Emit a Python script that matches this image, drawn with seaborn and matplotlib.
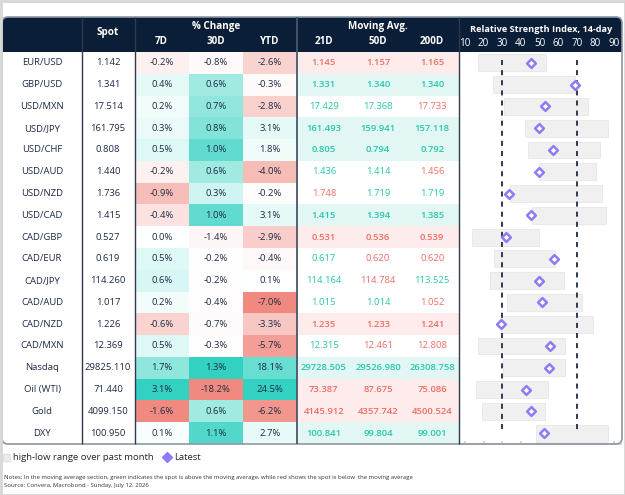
"""FX dashboard table: % change heat cells, moving averages and RSI ranges."""
import matplotlib

matplotlib.use("Agg")

import matplotlib.pyplot as plt
import numpy as np
import pandas as pd
import seaborn as sns
from matplotlib.colors import LinearSegmentedColormap
from matplotlib.lines import Line2D
from matplotlib.patches import FancyBboxPatch, Patch, Rectangle

assets = ["EUR/USD", "GBP/USD", "USD/MXN", "USD/JPY", "USD/CHF", "USD/AUD",
          "USD/NZD", "USD/CAD", "CAD/GBP", "CAD/EUR", "CAD/JPY", "CAD/AUD",
          "CAD/NZD", "CAD/MXN", "Nasdaq", "Oil (WTI)", "Gold", "DXY"]
spot = [1.142, 1.341, 17.514, 161.795, 0.808, 1.440, 1.736, 1.415, 0.527,
        0.619, 114.260, 1.017, 1.226, 12.369, 29825.110, 71.440, 4099.150, 100.950]
chg_7d = [-0.2, 0.4, 0.2, 0.3, 0.5, -0.2, -0.9, -0.4, 0.0, 0.5, 0.6, 0.2,
          -0.6, 0.5, 1.7, 3.1, -1.6, 0.1]
chg_30d = [-0.8, 0.6, 0.7, 0.8, 1.0, 0.6, 0.3, 1.0, -1.4, -0.2, -0.2, -0.4,
           -0.7, -0.3, 1.3, -18.2, 0.6, 1.1]
chg_ytd = [-2.6, -0.3, -2.8, 3.1, 1.8, -4.0, -0.2, 3.1, -2.9, -0.4, 0.1, -7.0,
           -3.3, -5.7, 18.1, 24.5, -6.2, 2.7]
ma_21d = [1.145, 1.331, 17.429, 161.493, 0.805, 1.436, 1.748, 1.415, 0.531,
          0.617, 114.164, 1.015, 1.235, 12.315, 29728.505, 73.387, 4145.912, 100.841]
ma_50d = [1.157, 1.340, 17.368, 159.941, 0.794, 1.414, 1.719, 1.394, 0.536,
          0.620, 114.784, 1.014, 1.233, 12.461, 29526.980, 87.675, 4357.742, 99.804]
ma_200d = [1.165, 1.340, 17.733, 157.118, 0.792, 1.456, 1.719, 1.385, 0.539,
           0.620, 113.525, 1.052, 1.241, 12.808, 26308.758, 75.086, 4500.524, 99.001]
rsi_low = [17.0, 25.0, 30.9, 42.3, 43.7, 49.9, 33.9, 46.0, 13.8, 25.4, 23.2,
           32.5, 29.5, 17.0, 30.3, 15.8, 19.0, 48.1]
rsi_high = [53.5, 69.1, 76.2, 86.9, 82.3, 80.5, 83.3, 85.8, 49.9, 58.3, 63.4,
            72.7, 78.9, 63.8, 63.8, 54.7, 53.1, 86.9]
rsi_latest = [45.6, 69.1, 53.1, 49.9, 57.4, 49.5, 33.5, 45.6, 32.1, 57.9, 49.9,
              51.1, 29.3, 55.6, 54.9, 43.0, 45.5, 52.4]
rsi_ticks = [10, 20, 30, 40, 50, 60, 70, 80, 90]
rsi_bands = [30, 70]

W, H = 625, 495
TOP, BOT = 52, 444
NAVY = "#0b1e38"
TEXT = "#1e2a44"
GREEN_TXT = "#27c6ad"
RED_TXT = "#ee6d65"
PURPLE = "#8c7cf5"
FS = 6.8

sns.set_theme(style="white")
plt.rcParams["font.family"] = ["Open Sans", "DejaVu Sans"]

n = len(assets)
row_h = (BOT - TOP) / n
row_y = [TOP + (i + 0.5) * row_h for i in range(n)]

fig = plt.figure(figsize=(6.25, 4.95), dpi=100)


def px_axes(x0, y0, x1, y1):
    return fig.add_axes([x0 / W, 1 - y1 / H, (x1 - x0) / W, (y1 - y0) / H])


# background: table body + navy header
bg = px_axes(0, 0, W, H)
bg.set_xlim(0, W)
bg.set_ylim(H, 0)
bg.axis("off")
bg.add_patch(FancyBboxPatch((2, 17), 620, BOT - 17, boxstyle="round,pad=0,rounding_size=6",
                            fc="white", ec="none"))
bg.add_patch(FancyBboxPatch((2, 17), 620, 35, boxstyle="round,pad=0,rounding_size=6",
                            fc=NAVY, ec="none"))
bg.add_patch(Rectangle((2, 40), 620, 12, fc=NAVY, ec="none"))

# % change heat cells, colour scaled separately for gains and losses per column
chg = pd.DataFrame({"7D": chg_7d, "30D": chg_30d, "YTD": chg_ytd}, index=assets)
norm = chg.copy()
for col in chg.columns:
    pos_max = chg[col].clip(lower=0).max()
    neg_min = -chg[col].clip(upper=0).min()
    norm[col] = np.where(chg[col] >= 0, chg[col] / pos_max, chg[col] / neg_min)
labels = chg.map(lambda v: f"{v:.1f}%")
chg_cmap = LinearSegmentedColormap.from_list("chg", ["#f08a80", "#ffffff", "#33d1c1"])

hm_ax = px_axes(134.7, TOP, 296.7, BOT)
sns.heatmap(norm, ax=hm_ax, cmap=chg_cmap, vmin=-1, vmax=1, cbar=False,
            annot=labels, fmt="", annot_kws={"color": TEXT, "fontsize": FS},
            xticklabels=False, yticklabels=False)

# moving averages: green if spot is above the average, red if below
ma = pd.DataFrame({"21D": ma_21d, "50D": ma_50d, "200D": ma_200d}, index=assets)
above = ma.le(pd.Series(spot, index=assets), axis=0)
tint = np.where(above.all(axis=1), 1, np.where((~above).all(axis=1), -1, 0))
tint_df = pd.DataFrame(np.repeat(tint[:, None], 3, axis=1), index=assets, columns=ma.columns)
tint_cmap = LinearSegmentedColormap.from_list("tint", ["#fdeceb", "#ffffff", "#e2f7f3"])

ma_ax = px_axes(296.7, TOP, 459.3, BOT)
sns.heatmap(tint_df, ax=ma_ax, cmap=tint_cmap, vmin=-1, vmax=1, cbar=False,
            xticklabels=False, yticklabels=False)
for i in range(n):
    for j, col in enumerate(ma.columns):
        ma_ax.text(j + 0.5, i + 0.5, f"{ma.iloc[i, j]:.3f}", ha="center", va="center",
                   fontsize=FS, color=GREEN_TXT if above.iloc[i, j] else RED_TXT,
                   fontweight="semibold" if tint[i] != 0 else "normal")

# RSI ranges and latest reading
rsi_ax = px_axes(459.3, TOP, 621, BOT)
ypos = np.arange(n) + 0.5
lo = np.array(rsi_low)
hi = np.array(rsi_high)
rsi_ax.barh(ypos, hi - lo, left=lo, height=0.78, color="#f0f0f0", edgecolor="#e7e7e7", lw=0.6)
rsi_ax.vlines(rsi_bands, 0.37, 17.37, colors="#2c3a4f", linestyles=(0, (2.6, 2.6)), lw=1.4)
sns.scatterplot(x=rsi_latest, y=ypos, ax=rsi_ax, marker="D", s=20, color="white",
                edgecolor=PURPLE, linewidth=1.8, zorder=3)
rsi_ax.set_xlim(6.94, 93.76)
rsi_ax.set_ylim(n, 0)
rsi_ax.set_yticks([])
rsi_ax.xaxis.tick_top()
rsi_ax.set_xticks(rsi_ticks)
rsi_ax.tick_params(axis="x", top=True, length=0, pad=2.5, labelcolor="white", labelsize=7.1)
for side in ["top", "left", "right"]:
    rsi_ax.spines[side].set_visible(False)
rsi_ax.spines["bottom"].set_color("#cfcfcf")
bottom_ticks = rsi_ax.secondary_xaxis("bottom")
bottom_ticks.set_xticks(rsi_ticks)
bottom_ticks.tick_params(direction="in", length=2, color="#cfcfcf", labelbottom=False)
bottom_ticks.spines["bottom"].set_visible(False)

# overlay: dividers, header and row text
ov = px_axes(0, 0, W, H)
ov.set_xlim(0, W)
ov.set_ylim(H, 0)
ov.axis("off")
ov.add_patch(FancyBboxPatch((2, 17), 620, BOT - 17, boxstyle="round,pad=0,rounding_size=6",
                            fill=False, ec="#8d97a3", lw=1.2))
ov.vlines([81.7, 134.7, 459.3], 17, BOT, color="#2e3a4c", lw=1)
ov.vlines(296.7, 17, BOT, color="#4a5666", lw=1.3)
ov.add_patch(Rectangle((0.5, 0.5), W - 1, H - 1, fill=False, ec="#d6d6d6", lw=2))

hdr = {"color": "white", "fontsize": 7.1, "fontweight": "bold", "ha": "center", "va": "center"}
ov.text(108, 33, "Spot", **hdr)
ov.text(216, 27, "% Change", **hdr)
ov.text(378, 27, "Moving Avg.", **hdr)
for x, lab in zip([161, 216, 270, 324, 378, 432], ["7D", "30D", "YTD", "21D", "50D", "200D"]):
    ov.text(x, 41, lab, **hdr)
ov.text(541, 30, "Relative Strength Index, 14-day", **{**hdr, "fontsize": 6.6})

for y, name, s in zip(row_y, assets, spot):
    ov.text(42, y, name, ha="center", va="center", fontsize=FS, color=TEXT)
    ov.text(108, y, f"{s:.3f}", ha="center", va="center", fontsize=FS, color=TEXT)

handles = [Patch(fc="#ececec", ec="#e2e2e2"),
           Line2D([], [], marker="D", ls="", color=PURPLE, ms=5)]
ov.legend(handles, ["high-low range over past month", "Latest"], loc="center left",
          bbox_to_anchor=(3 / W, 1 - 458 / H), ncol=2, frameon=False, fontsize=6.8,
          handlelength=0.7, handleheight=0.7, handletextpad=0.4, columnspacing=1.0,
          borderpad=0, borderaxespad=0)
ov.text(4, 477, "Notes: In the moving average section, green indicates the spot is above the "
        "moving average, while red shows the spot is below  the moving average",
        fontsize=4.3, color="#333333", va="center")
ov.text(4, 486, "Source: Convera, Macrobond - Sunday, July 12, 2026",
        fontsize=4.3, color="#333333", va="center")

fig.savefig("out.png", dpi=100)
plt.close(fig)
